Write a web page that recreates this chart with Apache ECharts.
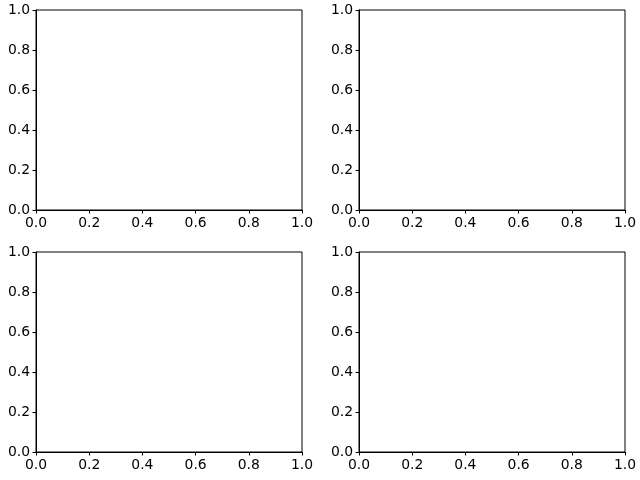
<!DOCTYPE html>
<html>
<head>
<meta charset="utf-8">
<script src="https://cdn.jsdelivr.net/npm/echarts@6/dist/echarts.min.js"></script>
<style>html,body{margin:0;padding:0;background:#fff}#c{width:640px;height:480px}</style>
</head>
<body>
<div id="c"></div>
<script>
const xTicks = [0.0, 0.2, 0.4, 0.6, 0.8, 1.0];
const yTicks = [0.0, 0.2, 0.4, 0.6, 0.8, 1.0];
const panels = ['top-left', 'top-right', 'bottom-left', 'bottom-right'];

const chart = echarts.init(document.getElementById('c'), null, {renderer: 'canvas'});
const boxes = [
  {left: 36, top: 10},
  {left: 359, top: 10},
  {left: 36, top: 252},
  {left: 359, top: 252}
];
const font = 'DejaVu Sans';
const axisCommon = (ticks) => ({
  type: 'value',
  min: ticks[0],
  max: ticks[ticks.length - 1],
  interval: ticks[1] - ticks[0],
  axisLine: {show: true, onZero: false, lineStyle: {color: '#000', width: 1}},
  axisTick: {show: true, length: 3.5, lineStyle: {color: '#000', width: 1}},
  axisLabel: {color: '#000', fontFamily: font, fontSize: 13.9, margin: 6, formatter: v => v.toFixed(1)},
  splitLine: {show: false}
});
const option = {
  animation: false,
  backgroundColor: '#fff',
  grid: boxes.map(b => ({left: b.left, top: b.top, width: 266, height: 200, show: true, borderColor: '#000', borderWidth: 1, backgroundColor: 'transparent', containLabel: false})),
  xAxis: panels.map((p, i) => Object.assign(axisCommon(xTicks), {gridIndex: i, position: 'bottom'})),
  yAxis: panels.map((p, i) => Object.assign(axisCommon(yTicks), {gridIndex: i, position: 'left'})),
  series: panels.map((p, i) => ({type: 'line', name: p, xAxisIndex: i, yAxisIndex: i, data: []}))
};
chart.setOption(option);
</script>
</body>
</html>
